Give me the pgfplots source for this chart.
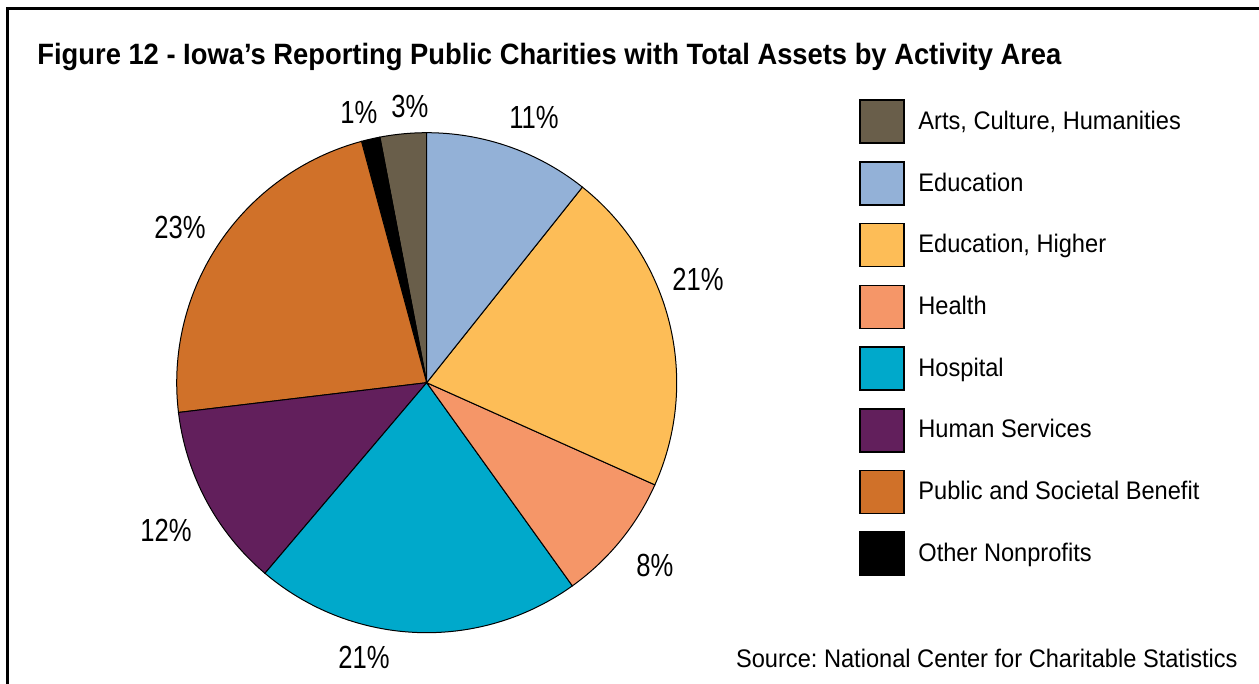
\documentclass[border=0pt]{standalone}
\usepackage{fontspec}
\setmainfont{Liberation Sans}[FakeStretch=0.93]
\newfontfamily\labelfont{Liberation Sans}[FakeStretch=0.8]
\usepackage{pgfplots}
\pgfplotsset{compat=1.18}
\usepackage{pgfplotstable}
\frenchspacing

\definecolor{arts}{HTML}{695E4A}
\definecolor{educ}{HTML}{93B1D7}
\definecolor{higher}{HTML}{FDBD57}
\definecolor{health}{HTML}{F59668}
\definecolor{hospital}{HTML}{00A9CB}
\definecolor{human}{HTML}{621F5C}
\definecolor{public}{HTML}{D07129}
\definecolor{other}{HTML}{000000}

% shares in percent, counter-clockwise from 12 o'clock
\pgfplotstableread{
name share
arts 3.0
other 1.2
public 22.7
human 11.9
hospital 21.1
health 8.4
higher 21.0
educ 10.7
}\shares

\begin{document}
\begin{tikzpicture}
\useasboundingbox (0,0) rectangle (629.5pt,-342pt);
% frame
\draw[line width=1.5pt] (3.75pt,-345pt) -- (3.75pt,-4.5pt) -- (632pt,-4.5pt);

\node[anchor=base west, inner sep=0pt, font=\bfseries\fontsize{14.7}{17}\selectfont]
  at (18.5pt,-32.5pt) {Figure 12 - Iowa’s Reporting Public Charities with Total Assets by Activity Area};

\node[anchor=base east, inner sep=0pt, font=\fontsize{12.7}{15}\selectfont]
  at (619pt,-333.5pt) {Source: National Center for Charitable Statistics};

\begin{axis}[
    at={(213.35pt,-191.35pt)}, anchor=origin,
    scale only axis, width=250pt, height=250pt,
    xmin=-1, xmax=1, ymin=-1, ymax=1,
    hide axis, clip=false,
    legend image code/.code={\draw[#1, line width=0.8pt] (0pt,-10.75pt) rectangle (22pt,10.75pt);},
    legend cell align=left,
    legend style={at={(1.3646,1.0674)}, anchor=north west, draw=none, fill=none,
        inner sep=0pt, row sep=8.55pt, font=\fontsize{12.7}{15}\selectfont,
        nodes={inner sep=0pt},
        /tikz/every odd column/.append style={column sep=6.7pt}},
]
\pgfplotstablegetrowsof{\shares}
\pgfmathtruncatemacro{\last}{\pgfplotsretval-1}
\def\cum{0}
\pgfplotsforeachungrouped \i in {0,...,\last}{
  \pgfplotstablegetelem{\i}{name}\of\shares \let\nm\pgfplotsretval
  \pgfplotstablegetelem{\i}{share}\of\shares \let\sh\pgfplotsretval
  \pgfmathsetmacro{\a}{90+3.6*\cum}
  \pgfmathsetmacro{\b}{90+3.6*(\cum+\sh)}
  \edef\cmd{\noexpand\addplot[draw=black, line width=0.5pt, fill=\nm, domain=\a:\b, samples=80, forget plot]
    ({cos(x)},{sin(x)}) -- (axis cs:0,0) -- cycle;}
  \cmd
  \pgfmathsetmacro{\cum}{\cum+\sh}
}

\addlegendimage{fill=arts, draw=black}
\addlegendentry{Arts, Culture, Humanities}
\addlegendimage{fill=educ, draw=black}
\addlegendentry{Education}
\addlegendimage{fill=higher, draw=black}
\addlegendentry{Education, Higher}
\addlegendimage{fill=health, draw=black}
\addlegendentry{Health}
\addlegendimage{fill=hospital, draw=black}
\addlegendentry{Hospital}
\addlegendimage{fill=human, draw=black}
\addlegendentry{Human Services}
\addlegendimage{fill=public, draw=black}
\addlegendentry{Public and Societal Benefit}
\addlegendimage{fill=other, draw=black}
\addlegendentry{Other Nonprofits}

\begin{scope}[every node/.style={font=\labelfont\fontsize{16}{18}\selectfont}]
\node at (axis cs:0.429,1.059) {11\%};
\node at (axis cs:1.085,0.415) {21\%};
\node at (axis cs:0.913,-0.733) {8\%};
\node at (axis cs:-0.251,-1.097) {21\%};
\node at (axis cs:-1.043,-0.589) {12\%};
\node at (axis cs:-0.987,0.619) {23\%};
\node at (axis cs:-0.271,1.079) {1\%};
\node at (axis cs:-0.067,1.103) {3\%};
\end{scope}
\end{axis}
\end{tikzpicture}
\end{document}
